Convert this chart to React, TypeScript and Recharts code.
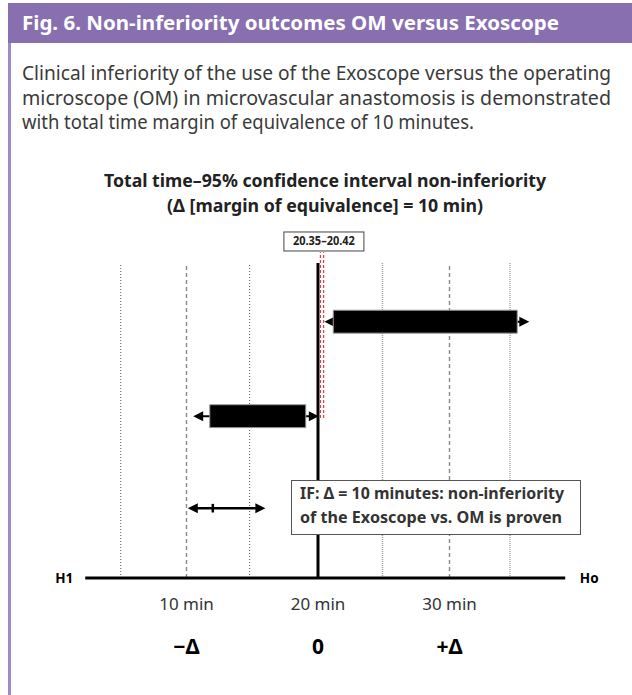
import React from "react";
import { ComposedChart, XAxis, YAxis, Scatter, ReferenceLine, ReferenceArea, ReferenceDot } from "recharts";

const FONT = '"Noto Sans", "DejaVu Sans", sans-serif';
const PURPLE = "#8870b0";

// x axis is in minutes, the hidden y axis is just rows 0-10
const xTicks = [10, 20, 30];
const xTickLabels = ["10 min", "20 min", "30 min"];
const deltaLabels = ["−Δ", "0", "+Δ"];
const gridLines = [5, 10, 14.8, 24.9, 30, 34.6];
const gridTop = 8.8;
const noDifference = 20;
const axisRange = [2.3, 38.8];
const axisEnds = ["H1", "Ho"];

// confidence intervals: upper row = Exoscope, lower row = OM
const ciRows = [7.16, 4.52];
const boxLow = [21.16, 11.77];
const boxHigh = [35.15, 19.07];
const whiskerLow = [20.49, 10.51];
const whiskerHigh = [36.07, 20.06];
const boxHalf = 0.32;

const overlapBounds = [20.18, 20.43];
const overlapLabel = "20.35–20.42";
const overlapSpan = [4.47, 9.1];
const overlapLabelPos = { x: 20.45, y: 9.4 };

const marginRow = 1.95;
const marginRange = [10.1, 16];
const marginTick = 12;

const figTitle = "Fig. 6. Non-inferiority outcomes OM versus Exoscope";
const introLines = [
  "Clinical inferiority of the use of the Exoscope versus the operating",
  "microscope (OM) in microvascular anastomosis is demonstrated",
  "with total time margin of equivalence of 10 minutes.",
];
const titleLines = [
  "Total time–95% confidence interval non-inferiority",
  "(Δ [margin of equivalence] = 10 min)",
];
const noteLines = ["IF: Δ = 10 minutes: non-inferiority", "of the Exoscope vs. OM is proven"];

const chartData = ciRows.map((row, i) => ({ x: (boxLow[i] + boxHigh[i]) / 2, y: row }));

const gridStyle = (v: number) => {
  if (v === 10 || v === 30) return { stroke: "#8a8a8a", dash: "4 3", width: 1.4 };
  if (v === 24.9 || v === 34.6) return { stroke: "#a8a8a8", dash: "1 1", width: 1.5 };
  return { stroke: "#555", dash: "1 2", width: 1 };
};

// line with arrow heads on both ends
const ArrowLine = (w: number) => (props: any) => {
  const { x1, y1, x2, y2 } = props;
  const h = 10;
  const s = 5;
  return (
    <g>
      <line x1={x1 + 3} y1={y1} x2={x2 - 3} y2={y2} stroke="#000" strokeWidth={w} />
      <polygon points={`${x1},${y1} ${x1 + h},${y1 - s} ${x1 + h},${y1 + s}`} fill="#000" />
      <polygon points={`${x2},${y2} ${x2 - h},${y2 - s} ${x2 - h},${y2 + s}`} fill="#000" />
    </g>
  );
};

const AxisShape = (props: any) => {
  const { x1, y1, x2, y2 } = props;
  return (
    <g>
      <line x1={x1} y1={y1} x2={x2} y2={y2} stroke="#000" strokeWidth={3} />
      <text x={x1 - 21} y={y1 + 5} textAnchor="middle" fontFamily={FONT} fontWeight="bold" fontSize={13.5} fill="#000">
        {axisEnds[0]}
      </text>
      <text x={x2 + 24} y={y2 + 5} textAnchor="middle" fontFamily={FONT} fontWeight="bold" fontSize={13.5} fill="#000">
        {axisEnds[1]}
      </text>
    </g>
  );
};

const LabelBox = (props: any) => {
  const { cx, cy } = props;
  return (
    <g>
      <rect x={cx - 40} y={cy - 9.5} width={80} height={19} fill="#fff" stroke="#444" strokeWidth={1} />
      <text x={cx} y={cy + 4} textAnchor="middle" fontFamily={FONT} fontWeight="bold" fontSize={11.5} fill="#222" textLength={62} lengthAdjust="spacingAndGlyphs">
        {overlapLabel}
      </text>
    </g>
  );
};

export default function App() {
  return (
    <div style={{ position: "absolute", left: 0, top: 0, width: 632, height: 695, background: "#fff", overflow: "hidden" }}>
      <svg width={632} height={695} style={{ position: "absolute", left: 0, top: 0 }}>
        <rect x={8} y={3} width={624} height={40} fill={PURPLE} />
        <text x={22} y={30} fontFamily={FONT} fontWeight="bold" fontSize={20} fill="#fff" textLength={537} lengthAdjust="spacingAndGlyphs">
          {figTitle}
        </text>
        <rect x={8} y={43} width={3} height={652} fill="#9d8bc6" />
        {introLines.map((t, i) => (
          <text key={t} x={22} y={80 + i * 24.5} fontFamily={FONT} fontSize={20} fill="#3a3a3a" textLength={i < 2 ? 589 : 452} lengthAdjust="spacingAndGlyphs">
            {t}
          </text>
        ))}
        {titleLines.map((t, i) => (
          <text key={t} x={325} y={187 + i * 25} textAnchor="middle" fontFamily={FONT} fontWeight="bold" fontSize={17.5} fill="#222" textLength={i === 0 ? 442 : 316} lengthAdjust="spacingAndGlyphs">
            {t}
          </text>
        ))}
      </svg>

      <div style={{ position: "absolute", left: 0, top: 0, width: 632, height: 695 }}>
        <ComposedChart width={632} height={695} data={chartData} margin={{ top: 220, right: 51, bottom: 32, left: 55 }}>
          <XAxis
            type="number"
            dataKey="x"
            domain={[0, 40]}
            ticks={xTicks}
            interval={0}
            tickFormatter={(v: number) => xTickLabels[xTicks.indexOf(v)]}
            axisLine={false}
            tickLine={false}
            tickSize={0}
            tickMargin={20}
            height={45}
            tick={{ fontSize: 17, fill: "#333", fontFamily: FONT }}
          />
          <XAxis
            xAxisId="delta"
            type="number"
            dataKey="x"
            domain={[0, 40]}
            ticks={xTicks}
            interval={0}
            tickFormatter={(v: number) => deltaLabels[xTicks.indexOf(v)]}
            axisLine={false}
            tickLine={false}
            tickSize={0}
            tickMargin={16}
            height={40}
            tick={{ fontSize: 21, fill: "#000", fontWeight: "bold", fontFamily: FONT }}
          />
          <YAxis type="number" dataKey="y" domain={[0, 10]} hide />

          {gridLines.map((g) => {
            const st = gridStyle(g);
            return (
              <ReferenceLine
                key={`g${g}`}
                segment={[{ x: g, y: 0 }, { x: g, y: gridTop }]}
                stroke={st.stroke}
                strokeDasharray={st.dash}
                strokeWidth={st.width}
                zIndex={10}
              />
            );
          })}
          <ReferenceLine segment={[{ x: noDifference, y: 0 }, { x: noDifference, y: gridTop }]} stroke="#000" strokeWidth={3} zIndex={10} />
          {overlapBounds.map((b) => (
            <ReferenceLine
              key={`r${b}`}
              segment={[{ x: b, y: overlapSpan[0] }, { x: b, y: overlapSpan[1] }]}
              stroke="#f0282a"
              strokeDasharray="3 2"
              strokeWidth={1.1}
              zIndex={10}
            />
          ))}
          <ReferenceLine segment={[{ x: axisRange[0], y: 0 }, { x: axisRange[1], y: 0 }]} shape={AxisShape} zIndex={10} />

          {ciRows.map((row, i) => (
            <ReferenceLine
              key={`w${i}`}
              segment={[{ x: whiskerLow[i], y: row }, { x: whiskerHigh[i], y: row }]}
              shape={ArrowLine(2)}
              zIndex={20}
            />
          ))}
          {ciRows.map((row, i) => (
            <ReferenceArea
              key={`b${i}`}
              x1={boxLow[i]}
              x2={boxHigh[i]}
              y1={row - boxHalf}
              y2={row + boxHalf}
              fill="#000"
              fillOpacity={1}
              stroke="#999"
              strokeWidth={1}
              zIndex={500}
            />
          ))}

          <ReferenceLine segment={[{ x: marginRange[0], y: marginRow }, { x: marginRange[1], y: marginRow }]} shape={ArrowLine(2.5)} zIndex={20} />
          <ReferenceLine segment={[{ x: marginTick, y: marginRow - 0.12 }, { x: marginTick, y: marginRow + 0.12 }]} stroke="#000" strokeWidth={2.5} zIndex={20} />

          <ReferenceDot x={overlapLabelPos.x} y={overlapLabelPos.y} r={1} shape={LabelBox} zIndex={600} />

          <Scatter dataKey="y" isAnimationActive={false} shape={() => <g />} />
        </ComposedChart>
      </div>

      <svg width={632} height={695} style={{ position: "absolute", left: 0, top: 0, pointerEvents: "none" }}>
        <rect x={291.5} y={480.5} width={289} height={54} fill="#fff" stroke="#555" strokeWidth={1} />
        {noteLines.map((t, i) => (
          <text key={t} x={300} y={499 + i * 24} fontFamily={FONT} fontWeight="bold" fontSize={16} fill="#333" textLength={i === 0 ? 264 : 262} lengthAdjust="spacingAndGlyphs">
            {t}
          </text>
        ))}
      </svg>
    </div>
  );
}
